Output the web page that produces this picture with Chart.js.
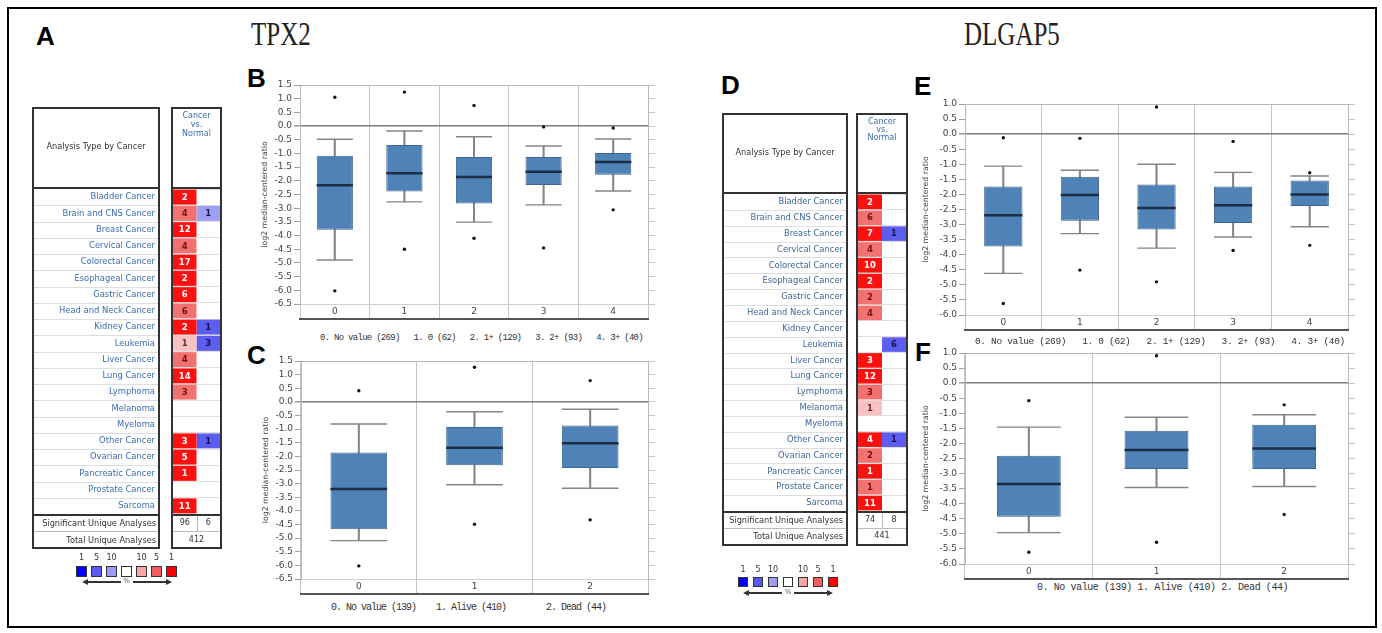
<!DOCTYPE html>
<html>
<head>
<meta charset="utf-8">
<script src="https://cdn.jsdelivr.net/npm/chart.js@4.4.1/dist/chart.umd.min.js"></script>
<style>
body { margin: 0; background: #fff; width: 1382px; height: 633px; position: relative; overflow: hidden; font-family: "DejaVu Sans", sans-serif; }
canvas { position: absolute; }
.box { position: absolute; border: 2px solid #333; box-sizing: border-box; }
.txt { position: absolute; white-space: pre; line-height: 1; }
.letter { position: absolute; font: bold 26px "Liberation Sans", Arial, sans-serif; color: #000; line-height: 1; }
.gene { position: absolute; font: 25px "Liberation Serif", serif; color: #222; line-height: 1; transform: scaleY(1.33); transform-origin: left top; }
.mono { position: absolute; white-space: pre; font-family: "Liberation Mono", monospace; color: #333; line-height: 1; }
</style>
</head>
<body>
<div style="position:absolute;left:7px;top:7px;width:1370px;height:621px;border:2.5px solid #000;box-sizing:border-box"></div>

<div class="letter" style="left:36px;top:23px">A</div>
<div class="gene" style="left:251px;top:17px">TPX2</div>
<div class="gene" style="left:964px;top:17px">DLGAP5</div>
<div class="letter" style="left:247px;top:65px">B</div>
<div class="letter" style="left:247px;top:342px">C</div>
<div class="letter" style="left:721px;top:72px">D</div>
<div class="letter" style="left:914px;top:73px">E</div>
<div class="letter" style="left:915px;top:339px">F</div>

<canvas id="heatA" width="190" height="325" style="left:32px;top:189px"></canvas>
<canvas id="heatD" width="186" height="317" style="left:722px;top:194px"></canvas>
<canvas id="boxB" width="400" height="243" style="left:256px;top:78px"></canvas>
<canvas id="boxC" width="399" height="242" style="left:257px;top:354px"></canvas>
<canvas id="boxE" width="439" height="235" style="left:917px;top:97px"></canvas>
<canvas id="boxF" width="439" height="235" style="left:917px;top:346px"></canvas>

<div id="extras"></div>

<script>
const cancerTypes = ['Bladder Cancer', 'Brain and CNS Cancer', 'Breast Cancer', 'Cervical Cancer', 'Colorectal Cancer',
	'Esophageal Cancer', 'Gastric Cancer', 'Head and Neck Cancer', 'Kidney Cancer', 'Leukemia', 'Liver Cancer',
	'Lung Cancer', 'Lymphoma', 'Melanoma', 'Myeloma', 'Other Cancer', 'Ovarian Cancer', 'Pancreatic Cancer',
	'Prostate Cancer', 'Sarcoma']

// shade: 1 = top 1%, 2 = top 5%, 3 = top 10%
const tpx2Up = [2, 4, 12, 4, 17, 2, 6, 6, 2, 1, 4, 14, 3, 0, 0, 3, 5, 1, 0, 11]
const tpx2UpShade = [1, 2, 1, 2, 1, 1, 1, 2, 1, 3, 2, 1, 2, 0, 0, 1, 1, 1, 0, 1]
const tpx2Down = [0, 1, 0, 0, 0, 0, 0, 0, 1, 3, 0, 0, 0, 0, 0, 1, 0, 0, 0, 0]
const tpx2DownShade = [0, 3, 0, 0, 0, 0, 0, 0, 2, 2, 0, 0, 0, 0, 0, 2, 0, 0, 0, 0]
const tpx2Significant = [96, 6]
const tpx2Total = 412

const dlgap5Up = [2, 6, 7, 4, 10, 2, 2, 4, 0, 0, 3, 12, 3, 1, 0, 4, 2, 1, 1, 11]
const dlgap5UpShade = [1, 2, 1, 2, 1, 1, 2, 2, 0, 0, 1, 1, 2, 3, 0, 1, 2, 1, 2, 1]
const dlgap5Down = [0, 0, 1, 0, 0, 0, 0, 0, 0, 6, 0, 0, 0, 0, 0, 1, 0, 0, 0, 0]
const dlgap5DownShade = [0, 0, 2, 0, 0, 0, 0, 0, 0, 2, 0, 0, 0, 0, 0, 2, 0, 0, 0, 0]
const dlgap5Significant = [74, 8]
const dlgap5Total = 441

const legendLabels = ['1', '5', '10', '', '10', '5', '1']

// B: TPX2 by nodal stage
const stageCats = ['0', '1', '2', '3', '4']
const stageNames = ['0. No value (269)', '1. 0 (62)', '2. 1+ (129)', '3. 2+ (93)', '4. 3+ (40)']
const tpx2StageHi = [-0.48, -0.18, -0.39, -0.73, -0.47]
const tpx2StageQ3 = [-1.08, -0.69, -1.13, -1.13, -0.98]
const tpx2StageMed = [-2.16, -1.72, -1.86, -1.67, -1.31]
const tpx2StageQ1 = [-3.79, -2.39, -2.83, -2.15, -1.78]
const tpx2StageLo = [-4.89, -2.77, -3.51, -2.88, -2.37]
const tpx2StageOutUp = [1.05, 1.24, 0.75, -0.03, -0.07]
const tpx2StageOutDown = [-6.02, -4.5, -4.1, -4.45, -3.06]

// C: TPX2 by survival status
const statusCats = ['0', '1', '2']
const statusNames = ['0. No value (139)', '1. Alive (410)', '2. Dead (44)']
const tpx2StatusHi = [-0.81, -0.36, -0.27]
const tpx2StatusQ3 = [-1.86, -0.92, -0.87]
const tpx2StatusMed = [-3.2, -1.68, -1.52]
const tpx2StatusQ1 = [-4.67, -2.33, -2.43]
const tpx2StatusLo = [-5.09, -3.04, -3.17]
const tpx2StatusOutUp = [0.41, 1.27, 0.78]
const tpx2StatusOutDown = [-6.02, -4.49, -4.33]

// E: DLGAP5 by nodal stage
const dlgStageHi = [-1.06, -1.2, -1.0, -1.27, -1.39]
const dlgStageQ3 = [-1.74, -1.41, -1.67, -1.74, -1.54]
const dlgStageMed = [-2.69, -2.02, -2.45, -2.36, -2.0]
const dlgStageQ1 = [-3.73, -2.87, -3.16, -2.95, -2.38]
const dlgStageLo = [-4.62, -3.3, -3.78, -3.41, -3.07]
const dlgStageOutUp = [-0.12, -0.14, 0.9, -0.24, -1.28]
const dlgStageOutDown = [-5.62, -4.51, -4.9, -3.86, -3.69]

// F: DLGAP5 by survival status
const dlgStatusHi = [-1.46, -1.13, -1.05]
const dlgStatusQ3 = [-2.41, -1.58, -1.38]
const dlgStatusMed = [-3.35, -2.22, -2.17]
const dlgStatusQ1 = [-4.43, -2.85, -2.85]
const dlgStatusLo = [-4.96, -3.46, -3.43]
const dlgStatusOutUp = [-0.58, 0.91, -0.72]
const dlgStatusOutDown = [-5.61, -5.28, -4.36]

const redShades = { 1: '#fd1010', 2: '#f37171', 3: '#f8c2c2' }
const redText = { 1: '#ffffff', 2: '#6e1414', 3: '#6e2a2a' }
const blueShades = { 1: '#1010fd', 2: '#5d5def', 3: '#9f9ff3' }
const blueText = { 1: '#ffffff', 2: '#141450', 3: '#1c1c55' }
const legendColors = ['#0000ff', '#5a5aee', '#9c9cf0', '#ffffff', '#f5a5a5', '#ef5d5d', '#ff0000']

const extras = document.getElementById('extras')

function add_div(cls, style, text) {
	let div = document.createElement('div')
	div.className = cls
	div.style.cssText = style
	if (text !== undefined) {
		div.textContent = text
	}
	extras.appendChild(div)
	return div
}

const cellText = {
	id: 'cellText',
	beforeDatasetsDraw(chart, args, opts) {
		let ctx = chart.ctx
		let y = chart.scales.y
		let n = chart.data.labels.length
		ctx.save()
		ctx.strokeStyle = '#dedede'
		ctx.lineWidth = 1
		for (let i = 1; i < n; i++) {
			let yy = Math.round(y.top + i * y.height / n) + 0.5
			ctx.beginPath()
			ctx.moveTo(opts.nameLeft, yy)
			ctx.lineTo(opts.nameRight, yy)
			ctx.stroke()
		}
		ctx.restore()
	},
	afterDatasetsDraw(chart) {
		let ctx = chart.ctx
		ctx.save()
		ctx.font = 'bold 8.5px "DejaVu Sans"'
		ctx.textAlign = 'center'
		ctx.textBaseline = 'middle'
		chart.data.datasets.forEach((ds, di) => {
			chart.getDatasetMeta(di).data.forEach((bar, i) => {
				if (!ds.counts[i]) {
					return
				}
				ctx.fillStyle = ds.textColors[i]
				ctx.fillText(String(ds.counts[i]), (bar.x + bar.base) / 2, bar.y + 0.5)
			})
		})
		ctx.restore()
	}
}

function heat_chart(id, up, upShade, down, downShade, axisWidth, labelPad, labelColor, nameRight) {
	return new Chart(document.getElementById(id), {
		type: 'bar',
		data: {
			labels: cancerTypes,
			datasets: [{
				data: up.map(v => v ? [0, 1] : null),
				counts: up,
				backgroundColor: upShade.map(s => redShades[s] || '#fff'),
				textColors: upShade.map(s => redText[s] || '#000')
			}, {
				data: down.map(v => v ? [1, 2] : null),
				counts: down,
				backgroundColor: downShade.map(s => blueShades[s] || '#fff'),
				textColors: downShade.map(s => blueText[s] || '#000')
			}]
		},
		options: {
			indexAxis: 'y',
			responsive: false,
			animation: false,
			events: [],
			layout: { autoPadding: false, padding: { right: 2 } },
			datasets: { bar: { grouped: false, barPercentage: 0.92, categoryPercentage: 1 } },
			scales: {
				x: { type: 'linear', min: 0, max: 2, display: false },
				y: {
					type: 'category',
					offset: true,
					grid: { offset: true, color: '#dedede', drawTicks: false },
					border: { display: false },
					ticks: { padding: labelPad, autoSkip: false, color: labelColor, font: { family: 'DejaVu Sans', size: 8.4 } },
					afterFit: s => {
						s.width = axisWidth
						s.paddingTop = 0
						s.paddingBottom = 0
					}
				}
			},
			plugins: {
				legend: { display: false },
				tooltip: { enabled: false },
				cellText: { nameLeft: 2, nameRight: nameRight }
			}
		},
		plugins: [cellText]
	})
}

function box_chart(id, cats, lo, q1, med, q3, hi, outUp, outDown, yMin, yMax, axisWidth, boxFrac) {
	let half = ctx => {
		let area = ctx.chart.chartArea
		return area ? (area.right - area.left) / cats.length * boxFrac / 2 : 10
	}
	let tick_font = { family: 'DejaVu Sans', size: 9 }
	return new Chart(document.getElementById(id), {
		data: {
			labels: cats,
			datasets: [
				{ type: 'line', data: outUp, showLine: false, pointStyle: 'circle', pointRadius: 1.7, pointBackgroundColor: '#111', pointBorderWidth: 0, order: 1 },
				{ type: 'line', data: outDown, showLine: false, pointStyle: 'circle', pointRadius: 1.7, pointBackgroundColor: '#111', pointBorderWidth: 0, order: 1 },
				{ type: 'line', data: med, showLine: false, pointStyle: 'line', pointRadius: half, pointBorderColor: '#1b2e46', pointBorderWidth: 2.5, order: 2 },
				{ type: 'line', data: hi, showLine: false, pointStyle: 'line', pointRadius: half, pointBorderColor: '#858585', pointBorderWidth: 1.4, order: 3 },
				{ type: 'line', data: lo, showLine: false, pointStyle: 'line', pointRadius: half, pointBorderColor: '#858585', pointBorderWidth: 1.4, order: 3 },
				{
					type: 'bar', data: cats.map((c, i) => [q1[i], q3[i]]),
					backgroundColor: '#4f82b7', borderColor: '#3d6690', borderWidth: 1, borderSkipped: false,
					barPercentage: boxFrac, categoryPercentage: 1, grouped: false, order: 4
				},
				{
					type: 'bar', data: cats.map((c, i) => [lo[i], hi[i]]),
					backgroundColor: '#858585', barThickness: 1.4, grouped: false, order: 5
				}
			]
		},
		options: {
			responsive: false,
			animation: false,
			events: [],
			layout: { autoPadding: false, padding: { top: 7 } },
			plugins: { legend: { display: false }, tooltip: { enabled: false } },
			scales: {
				x: {
					type: 'category',
					offset: true,
					grid: { offset: true, color: '#c6c6c6', tickLength: 15, tickColor: '#c6c6c6' },
					border: { color: '#d0d0d0' },
					ticks: { padding: -13, maxRotation: 0, color: '#444', font: tick_font },
					afterFit: s => {
						s.height = 15
						s.paddingLeft = 0
						s.paddingRight = 0
					}
				},
				x2: {
					type: 'category',
					labels: cats,
					position: 'bottom',
					weight: 1,
					display: true,
					offset: true,
					grid: { drawOnChartArea: false, drawTicks: false, color: 'rgba(0,0,0,0)' },
					ticks: { display: false },
					border: { color: '#555', width: 2 },
					afterFit: s => { s.height = 2 }
				},
				y: {
					type: 'linear',
					min: yMin,
					max: yMax,
					ticks: { stepSize: 0.5, autoSkip: false, padding: 2, color: '#444', font: tick_font, callback: v => v.toFixed(1) },
					grid: {
						color: c => c.tick.value === 0 ? '#7c7c7c' : c.tick.value === yMax ? '#b8b8b8' : c.tick.value === yMin ? '#d2d2d2' : 'rgba(0,0,0,0)',
						lineWidth: c => c.tick.value === 0 ? 1.6 : 1,
						tickLength: 6,
						tickColor: '#a0a0a0'
					},
					border: { color: '#b8b8b8' },
					title: { display: true, text: 'log2 median-centered ratio', color: '#444', padding: { top: 4, bottom: 0 }, font: { family: 'DejaVu Sans', size: 7.8 } },
					afterFit: s => {
						s.width = axisWidth
						s.paddingTop = 0
						s.paddingBottom = 0
					}
				},
				y2: {
					type: 'linear',
					position: 'right',
					min: yMin,
					max: yMax,
					display: true,
					ticks: { display: false, stepSize: 0.5 },
					grid: { drawOnChartArea: false, tickLength: 7, tickColor: '#c4c4c4' },
					border: { color: '#b8b8b8' },
					afterFit: s => {
						s.width = 8
						s.paddingTop = 0
						s.paddingBottom = 0
					}
				}
			}
		}
	})
}

function table_frame(nameLeft, nameWidth, valueLeft, valueWidth, top, headBottom, bodyBottom, sigBottom, footBottom) {
	let parts = [[nameLeft, nameWidth], [valueLeft, valueWidth]]
	parts.forEach(p => {
		add_div('box', `left:${p[0]}px;top:${top}px;width:${p[1]}px;height:${headBottom - top + 1}px`)
		add_div('box', `left:${p[0]}px;top:${headBottom - 1}px;width:${p[1]}px;height:${bodyBottom - headBottom + 2}px`)
		add_div('box', `left:${p[0]}px;top:${bodyBottom - 1}px;width:${p[1]}px;height:${footBottom - bodyBottom + 2}px`)
		add_div('', `position:absolute;left:${p[0] + 2}px;top:${sigBottom}px;width:${p[1] - 4}px;height:1px;background:#bbb`)
	})
	add_div('', `position:absolute;left:${valueLeft + valueWidth / 2}px;top:${bodyBottom + 1}px;width:1px;height:${sigBottom - bodyBottom - 1}px;background:#bbb`)
}

function table_texts(cfg, significant, total) {
	add_div('txt', `left:${cfg.nameLeft}px;width:${cfg.nameWidth}px;top:${cfg.headY - 4}px;text-align:center;font-size:8.2px;color:#333`, 'Analysis Type by Cancer')
	add_div('txt', `left:${cfg.valueLeft}px;width:${cfg.valueWidth}px;top:${cfg.capTop}px;text-align:center;font-size:8px;line-height:${cfg.capLine}px;color:#3a6cb0`, 'Cancer\nvs.\nNormal')
	add_div('txt', `left:${cfg.nameLeft}px;width:${cfg.labelRight - cfg.nameLeft}px;top:${cfg.sigY - 4}px;text-align:right;font-size:8.2px;color:#333`, 'Significant Unique Analyses')
	add_div('txt', `left:${cfg.nameLeft}px;width:${cfg.labelRight - cfg.nameLeft}px;top:${cfg.totalY - 4}px;text-align:right;font-size:8.2px;color:#333`, 'Total Unique Analyses')
	let half = cfg.valueWidth / 2
	add_div('txt', `left:${cfg.valueLeft}px;width:${half}px;top:${cfg.sigY - 4}px;text-align:center;font-size:8px;color:#333`, String(significant[0]))
	add_div('txt', `left:${cfg.valueLeft + half}px;width:${half}px;top:${cfg.sigY - 4}px;text-align:center;font-size:8px;color:#333`, String(significant[1]))
	add_div('txt', `left:${cfg.valueLeft}px;width:${cfg.valueWidth}px;top:${cfg.totalY - 4}px;text-align:center;font-size:8px;color:#333`, String(total))
}

function shade_legend(x0, labelY, sqTop, size, step, arrowY) {
	legendLabels.forEach((label, i) => {
		let x = x0 + i * step
		if (label) {
			add_div('txt', `left:${x - 4}px;width:${size + 8}px;top:${labelY - 4}px;text-align:center;font-size:8px;color:#333`, label)
		}
		add_div('', `position:absolute;left:${x}px;top:${sqTop}px;width:${size}px;height:${size}px;box-sizing:border-box;border:1.5px solid #333;background:${legendColors[i]}`)
	})
	let mid = x0 + 3 * step + size / 2
	let left = x0 + size / 2
	let right = x0 + 6 * step + size / 2
	add_div('', `position:absolute;left:${left + 4}px;top:${arrowY}px;width:${mid - left - 10}px;height:1.5px;background:#333`)
	add_div('', `position:absolute;left:${left}px;top:${arrowY - 2.5}px;width:0;height:0;border-top:3px solid transparent;border-bottom:3px solid transparent;border-right:6px solid #333`)
	add_div('', `position:absolute;left:${mid + 6}px;top:${arrowY}px;width:${right - mid - 10}px;height:1.5px;background:#333`)
	add_div('', `position:absolute;left:${right - 6}px;top:${arrowY - 2.5}px;width:0;height:0;border-top:3px solid transparent;border-bottom:3px solid transparent;border-left:6px solid #333`)
	add_div('txt', `left:${mid - 5}px;width:10px;top:${arrowY - 3}px;text-align:center;font-size:7px;color:#555`, '%')
}

function group_line(text, x, y, size, spacing) {
	add_div('mono', `left:${x}px;top:${y - size / 2}px;font-size:${size}px;letter-spacing:${spacing}px`, text)
}

table_frame(32, 128, 171, 51, 107, 188, 515, 531, 548)
table_texts({ nameLeft: 34, nameWidth: 124, valueLeft: 173, valueWidth: 47, headY: 146, capTop: 111, capLine: 9, labelRight: 156, sigY: 523, totalY: 540 }, tpx2Significant, tpx2Total)
table_frame(722, 126, 856, 52, 113, 193, 512, 528, 545)
table_texts({ nameLeft: 724, nameWidth: 122, valueLeft: 858, valueWidth: 48, headY: 152, capTop: 118, capLine: 8, labelRight: 843, sigY: 520, totalY: 536 }, dlgap5Significant, dlgap5Total)

shade_legend(76, 558, 566, 11, 15, 581)
shade_legend(738, 570, 577, 10, 15, 592)

group_line(stageNames.join('   '), 320, 338, 9, -0.72)
statusNames.forEach((name, i) => group_line(name, [331, 436, 546][i], 608, 10, -1))
group_line(stageNames.join('   '), 975, 342, 9.5, -0.34)
group_line(statusNames.join(' '), 1037, 588, 10, -0.42)

heat_chart('heatA', tpx2Up, tpx2UpShade, tpx2Down, tpx2DownShade, 141, 18, '#3a6cb0', 126)
heat_chart('heatD', dlgap5Up, dlgap5UpShade, dlgap5Down, dlgap5DownShade, 136, 15, '#3f6696', 124)

box_chart('boxB', stageCats, tpx2StageLo, tpx2StageQ1, tpx2StageMed, tpx2StageQ3, tpx2StageHi, tpx2StageOutUp, tpx2StageOutDown, -6.5, 1.5, 44, 0.52)
box_chart('boxC', statusCats, tpx2StatusLo, tpx2StatusQ1, tpx2StatusMed, tpx2StatusQ3, tpx2StatusHi, tpx2StatusOutUp, tpx2StatusOutDown, -6.5, 1.5, 44, 0.49)
box_chart('boxE', stageCats, dlgStageLo, dlgStageQ1, dlgStageMed, dlgStageQ3, dlgStageHi, dlgStageOutUp, dlgStageOutDown, -6, 1, 48, 0.5)
box_chart('boxF', statusCats, dlgStatusLo, dlgStatusQ1, dlgStatusMed, dlgStatusQ3, dlgStatusHi, dlgStatusOutUp, dlgStatusOutDown, -6, 1, 48, 0.5)
</script>
</body>
</html>
